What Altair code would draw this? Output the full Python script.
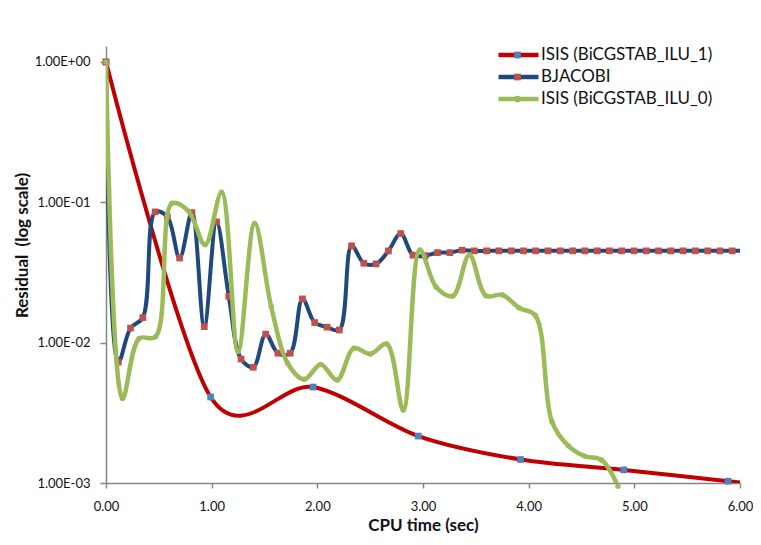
import altair as alt
import pandas as pd

# ---------------- data ----------------
N1 = "ISIS (BiCGSTAB_ILU_1)"
N2 = "BJACOBI"
N3 = "ISIS (BiCGSTAB_ILU_0)"
series_names = [N1, N2, N3]
marker_keys = ["ILU_1 marker", "BJACOBI marker", "ILU_0 marker"]

line_colors = ["#C00000", "#1F497D", "#9BBB59"]
marker_colors = ["#4F81BD", "#C0504D", "#9BBB59"]
marker_shapes = ["square", "square", "circle"]

ilu1_t = [0.0, 0.99, 1.96, 2.955, 3.923, 4.90, 5.887, 6.86]
ilu1_r = [1.0, 4.1e-3, 4.83e-3, 2.16e-3, 1.47e-3, 1.24e-3, 1.03e-3, 0.87e-3]

bj_t = [0.0, 0.116, 0.232, 0.349, 0.465, 0.581, 0.697, 0.813, 0.930, 1.046,
        1.162, 1.278, 1.394, 1.511, 1.627, 1.743, 1.859, 1.975, 2.092, 2.208,
        2.324, 2.440, 2.556, 2.673, 2.789, 2.905, 3.021, 3.137, 3.254, 3.370,
        3.486, 3.602, 3.718, 3.835, 3.951, 4.067, 4.183, 4.299, 4.416, 4.532,
        4.648, 4.764, 4.880, 4.997, 5.113, 5.229, 5.345, 5.461, 5.578, 5.694,
        5.810, 5.926, 6.042]
bj_r = [1.0, 7.26e-3, 1.27e-2, 1.51e-2, 8.55e-2, 7.88e-2, 4.01e-2, 8.45e-2, 1.30e-2, 7.26e-2,
        2.14e-2, 7.65e-3, 6.68e-3, 1.15e-2, 8.41e-3, 8.41e-3, 2.05e-2, 1.39e-2, 1.29e-2, 1.23e-2,
        4.90e-2, 3.68e-2, 3.64e-2, 4.51e-2, 5.99e-2, 4.20e-2, 4.17e-2, 4.38e-2, 4.38e-2, 4.56e-2,
        4.51e-2, 4.51e-2, 4.51e-2, 4.51e-2, 4.51e-2, 4.51e-2, 4.51e-2, 4.51e-2, 4.51e-2, 4.51e-2,
        4.51e-2, 4.51e-2, 4.51e-2, 4.51e-2, 4.51e-2, 4.51e-2, 4.51e-2, 4.51e-2, 4.51e-2, 4.51e-2,
        4.51e-2, 4.51e-2, 4.51e-2]

ilu0_t = [0.0, 0.156, 0.313, 0.469, 0.625, 0.782, 0.938, 1.094, 1.250, 1.407,
          1.563, 1.719, 1.876, 2.032, 2.188, 2.345, 2.501, 2.657, 2.813, 2.970,
          3.126, 3.282, 3.439, 3.595, 3.751, 3.908, 4.064, 4.220, 4.376, 4.533,
          4.689, 4.845]
ilu0_r = [1.0, 4.0e-3, 1.07e-2, 1.10e-2, 9.84e-2, 8.63e-2, 4.98e-2, 0.118, 8.65e-3, 7.08e-2,
          1.81e-2, 7.13e-3, 5.48e-3, 7.0e-3, 5.42e-3, 9.12e-3, 8.3e-3, 9.8e-3, 3.31e-3, 4.58e-2,
          2.48e-2, 2.15e-2, 4.22e-2, 2.16e-2, 2.19e-2, 1.77e-2, 1.56e-2, 2.74e-3, 1.84e-3, 1.55e-3,
          1.46e-3, 9.5e-4]

x_ticks = [0, 1, 2, 3, 4, 5, 6]
y_ticks = [0.001, 0.01, 0.1, 1.0]
y_tick_labels = ["1.00E-03", "1.00E-02", "1.00E-01", "1.00E+00"]

# ---------------- build table ----------------
rows = []
for name, key, ts, rs in [(N1, marker_keys[0], ilu1_t, ilu1_r),
                          (N2, marker_keys[1], bj_t, bj_r),
                          (N3, marker_keys[2], ilu0_t, ilu0_r)]:
    for t, r in zip(ts, rs):
        rows.append({"series": name, "marker": key, "t": t, "r": r})
df = pd.DataFrame(rows)

FONT = "Lato"
AXIS_COLOR = "#868686"
TEXT_COLOR = "#111111"

label_expr = " : ".join(
    [f"datum.value < {v * 3.16} ? '{lab}'" for v, lab in zip(y_ticks[:-1], y_tick_labels[:-1])]
) + f" : '{y_tick_labels[-1]}'"

x_enc = alt.X("t:Q",
              scale=alt.Scale(domain=[0, 6], nice=False, zero=False),
              axis=alt.Axis(values=x_ticks, format=".2f", title="CPU time (sec)",
                            grid=False, tickSize=5, labelPadding=12, titlePadding=4,
                            labelFlush=False))
y_enc = alt.Y("r:Q",
              scale=alt.Scale(type="log", domain=[0.001, 1.3], nice=False),
              axis=alt.Axis(values=y_ticks, labelExpr=label_expr,
                            title="Residual\u00a0 (log scale)", grid=False,
                            tickSize=6, labelPadding=10, titlePadding=3, titleY=199))

line_legend = alt.Legend(title=None, orient="none", legendX=390, legendY=0,
                         symbolType="stroke", symbolSize=1600, symbolStrokeWidth=4.5,
                         labelFont=FONT, labelFontSize=17, labelColor=TEXT_COLOR,
                         labelLimit=400, clipHeight=18, rowPadding=4, padding=0,
                         labelOffset=0)
marker_legend = alt.Legend(title=None, orient="none", legendX=408, legendY=0,
                           symbolSize=45, symbolStrokeWidth=0, labelExpr="''",
                           labelFontSize=1, clipHeight=18, rowPadding=4, padding=0,
                           zindex=2)

color_enc = alt.Color("series:N", scale=alt.Scale(domain=series_names, range=line_colors),
                      legend=line_legend)
fill_enc = alt.Fill("marker:N", scale=alt.Scale(domain=marker_keys, range=marker_colors),
                    legend=marker_legend)
shape_enc = alt.Shape("marker:N", scale=alt.Scale(domain=marker_keys, range=marker_shapes),
                      legend=marker_legend)

layers = []
for name, msize, sw, interp in [(N1, 45, 4, "cardinal"), (N2, 45, 4, "catmull-rom"),
                                (N3, 30, 4.5, "catmull-rom")]:
    base = alt.Chart(df).transform_filter(alt.datum.series == name)
    line_kw = dict(interpolate=interp, strokeWidth=sw, clip=True)
    if interp == "cardinal":
        line_kw["tension"] = 0.08
    layers.append(base.mark_line(**line_kw).encode(x=x_enc, y=y_enc, color=color_enc))
    layers.append(base.transform_filter(alt.datum.t <= 6.0)
                  .mark_point(filled=True, size=msize, opacity=1)
                  .encode(x=x_enc, y=y_enc, fill=fill_enc, shape=shape_enc))

chart = alt.layer(*layers).properties(
    width=634, height=437,
    autosize=alt.AutoSizeParams(type="none"),
    padding={"left": 98, "top": 38, "right": 13, "bottom": 50},
).configure_view(stroke=None).configure_axis(
    domainColor=AXIS_COLOR, tickColor=AXIS_COLOR, domainWidth=1.5, tickWidth=1.5,
    labelFont=FONT, labelFontSize=13, labelColor=TEXT_COLOR,
    titleFont=FONT, titleFontSize=17, titleFontWeight="bold", titleColor=TEXT_COLOR,
)

chart.save("out.html", embed_options={"renderer": "svg", "actions": False})
